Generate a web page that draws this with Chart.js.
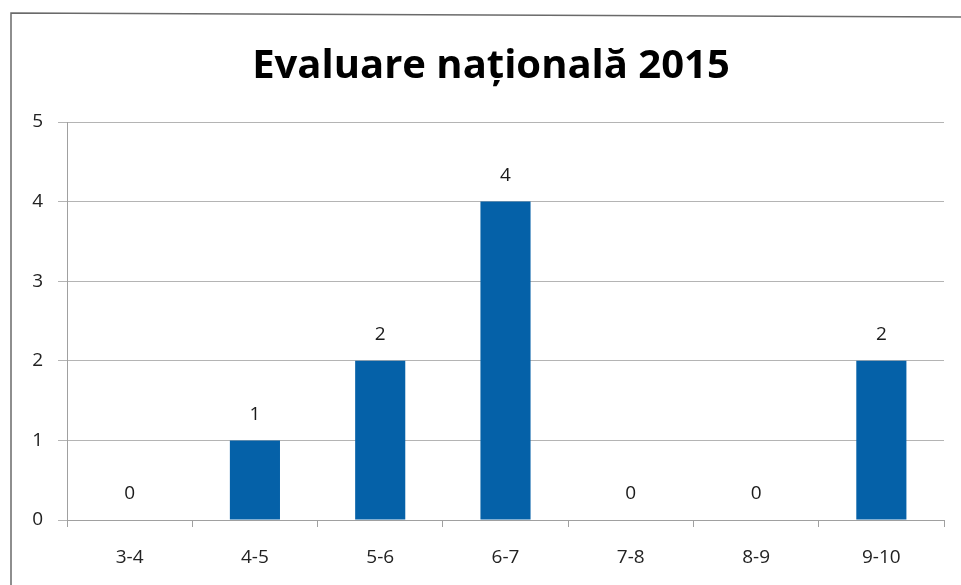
<!DOCTYPE html>
<html>
<head>
<meta charset="utf-8">
<script src="https://cdn.jsdelivr.net/npm/chart.js@4/dist/chart.umd.min.js"></script>
<style>
html,body{margin:0;padding:0;background:#fff;}
#wrap{width:961px;height:585px;position:relative;}
</style>
</head>
<body>
<div id="wrap"><canvas id="c" width="961" height="585"></canvas></div>
<script>
const chartTitle = "Evaluare națională 2015";
const categories = ["3-4","4-5","5-6","6-7","7-8","8-9","9-10"];
const counts = [0,1,2,4,0,0,2];
const yTicks = [0,1,2,3,4,5];

const fontFam = "'Open Sans', 'Liberation Sans', sans-serif";

const framePlugin = {
  id: 'frame',
  beforeDraw(chart){
    const ctx = chart.ctx;
    ctx.save();
    ctx.fillStyle = '#fff';
    ctx.fillRect(0,0,chart.width,chart.height);
    ctx.strokeStyle = '#6a6a6a';
    ctx.lineWidth = 1.5;
    ctx.beginPath();
    ctx.moveTo(11, 585);
    ctx.lineTo(11, 13);
    ctx.lineTo(961, 17);
    ctx.stroke();
    ctx.restore();
  },
  afterDraw(chart){
    const ctx = chart.ctx;
    ctx.save();
    ctx.fillStyle = '#000';
    ctx.font = "bold 40px 'Open Sans', 'Liberation Sans', sans-serif";
    ctx.textAlign = 'center';
    ctx.textBaseline = 'middle';
    ctx.fillText(chartTitle, 491, 67);
    // data labels
    const meta = chart.getDatasetMeta(0);
    ctx.font = "19px " + fontFam;
    ctx.fillStyle = '#1a1a1a';
    meta.data.forEach((bar, i) => {
      ctx.fillText(String(counts[i]), bar.x, bar.y - 26);
    });
    ctx.restore();
  }
};

new Chart(document.getElementById('c'), {
  type: 'bar',
  data: {
    labels: categories,
    datasets: [{
      data: counts,
      backgroundColor: '#0561a8',
      borderWidth: 0,
      categoryPercentage: 1.0,
      barPercentage: 0.4
    }]
  },
  options: {
    responsive: false,
    animation: false,
    layout: { padding: { left: 0, right: 17, top: 122, bottom: 0 } },
    plugins: { legend: { display: false }, tooltip: { enabled: false }, title: { display: false } },
    scales: {
      x: {
        afterFit(scale){ scale.height = 65; },
        grid: { display: true, drawOnChartArea: false, drawTicks: true, tickLength: 7, offset: true, color: '#a0a0a0' },
        border: { display: true, color: '#a0a0a0', width: 1 },
        ticks: { color: '#222', font: { family: fontFam, size: 19 }, padding: 19 }
      },
      y: {
        min: 0, max: 5,
        afterFit(scale){ scale.width = 67; },
        afterBuildTicks(scale){ scale.ticks = yTicks.map(v => ({ value: v })); },
        grid: { color: '#b4b4b4', tickLength: 9, drawTicks: true },
        border: { display: true, color: '#a0a0a0', width: 1 },
        ticks: { color: '#222', font: { family: fontFam, size: 19 }, padding: 15 }
      }
    }
  },
  plugins: [framePlugin]
});
</script>
</body>
</html>
